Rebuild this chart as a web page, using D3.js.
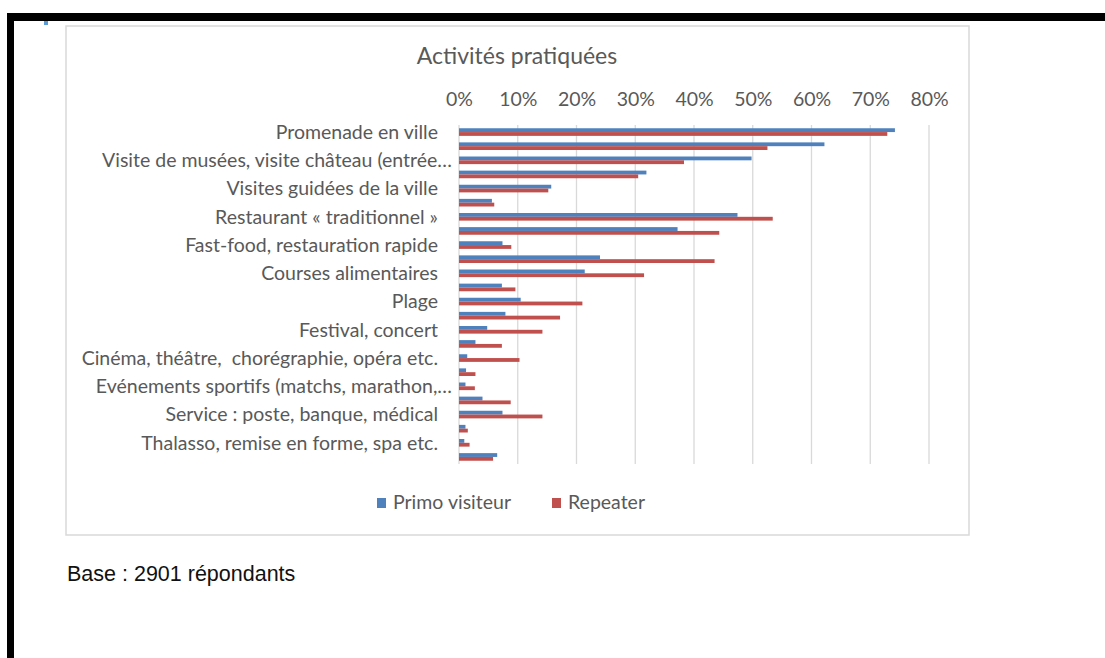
<!DOCTYPE html>
<html>
<head>
<meta charset="utf-8">
<script src="https://cdn.jsdelivr.net/npm/d3@7"></script>
<style>
    body { margin: 0; background: #fff; }
    .lato { font-family: Lato, "Open Sans", sans-serif; white-space: pre; }
</style>
</head>
<body>
<div id="chart"></div>
<script>
// categories (every other one has no label shown on the axis)
const categories = [
    "Promenade en ville", "",
    "Visite de musées, visite château (entrée…", "",
    "Visites guidées de la ville", "",
    "Restaurant « traditionnel »", "",
    "Fast-food, restauration rapide", "",
    "Courses alimentaires", "",
    "Plage", "",
    "Festival, concert", "",
    "Cinéma, théâtre,  chorégraphie, opéra etc.", "",
    "Evénements sportifs (matchs, marathon,…", "",
    "Service : poste, banque, médical", "",
    "Thalasso, remise en forme, spa etc.", ""
];
const primo = [74.2, 62.2, 49.8, 31.9, 15.7, 5.6, 47.4, 37.2, 7.4, 24.0, 21.4, 7.3,
    10.5, 7.9, 4.8, 2.8, 1.4, 1.2, 1.1, 4.0, 7.4, 1.1, 0.9, 6.5];
const repeater = [72.9, 52.5, 38.3, 30.5, 15.2, 6.0, 53.4, 44.3, 8.9, 43.5, 31.5, 9.6,
    21.0, 17.2, 14.2, 7.3, 10.3, 2.8, 2.7, 8.8, 14.2, 1.5, 1.8, 5.8];
const seriesNames = ["Primo visiteur", "Repeater"];
const xTicks = [0, 10, 20, 30, 40, 50, 60, 70, 80];

const w = 1105, h = 658;
const colors = { "Primo visiteur": "#4f81bd", "Repeater": "#c0504d" };

const svg = d3.select("#chart").append("svg")
    .attr("width", w)
    .attr("height", h);

// page frame (screenshot border)
svg.append("rect").attr("x", 7).attr("y", 13).attr("width", w - 7).attr("height", 8).attr("fill", "#000");
svg.append("rect").attr("x", 7).attr("y", 13).attr("width", 7).attr("height", h - 13).attr("fill", "#000");
svg.append("rect").attr("x", 44).attr("y", 21).attr("width", 4).attr("height", 4).attr("fill", "#5b9bd5");

// chart box
svg.append("rect")
    .attr("x", 66).attr("y", 26)
    .attr("width", 903).attr("height", 509)
    .attr("fill", "#fff")
    .attr("stroke", "#d9d9d9")
    .attr("stroke-width", 1.5);

svg.append("text")
    .attr("class", "lato")
    .text("Activités pratiquées")
    .attr("x", 517).attr("y", 64)
    .attr("text-anchor", "middle")
    .attr("font-size", 23)
    .attr("fill", "#595959");

// SCALES
const x = d3.scaleLinear()
    .domain([0, 80])
    .range([459, 929]);

const y = d3.scaleBand()
    .domain(d3.range(categories.length))
    .range([125, 464]);

const ySub = d3.scaleBand()
    .domain(seriesNames)
    .range([y.bandwidth() * 0.23, y.bandwidth() * 0.77]);

// gridlines
svg.append("g")
    .selectAll("line")
    .data(xTicks).enter().append("line")
    .attr("x1", d => x(d)).attr("x2", d => x(d))
    .attr("y1", 125).attr("y2", 464)
    .attr("stroke", "#d9d9d9")
    .attr("stroke-width", 1.3);

// top axis
const xAxis = svg.append("g")
    .attr("transform", "translate(0,106)")
    .call(d3.axisTop(x).tickValues(xTicks).tickFormat(d => d + "%").tickSize(0).tickPadding(0));
xAxis.select(".domain").remove();
xAxis.selectAll("text")
    .attr("class", "lato")
    .attr("font-size", 19.5)
    .attr("fill", "#595959");

// category labels
svg.append("g")
    .selectAll("text")
    .data(categories).enter().append("text")
    .attr("class", "lato")
    .text(d => d)
    .attr("x", d => d.endsWith("…") ? 452 : 438)
    .attr("y", (d, i) => y(i) + y.bandwidth() / 2)
    .attr("dy", "0.35em")
    .attr("text-anchor", "end")
    .attr("font-size", 19.5)
    .attr("fill", "#595959");

// bars
const rows = categories.map((c, i) => ({ i: i, values: [primo[i], repeater[i]] }));
const groups = svg.append("g")
    .selectAll("g")
    .data(rows).enter().append("g")
    .attr("transform", d => "translate(0," + y(d.i) + ")");

groups.selectAll("rect")
    .data(d => d.values.map((v, k) => ({ name: seriesNames[k], value: v })))
    .enter().append("rect")
    .attr("x", x(0))
    .attr("y", d => ySub(d.name))
    .attr("width", d => x(d.value) - x(0))
    .attr("height", ySub.bandwidth())
    .attr("fill", d => colors[d.name]);

// legend
const legendPos = [{ name: "Primo visiteur", x: 377 }, { name: "Repeater", x: 552 }];
const legend = svg.append("g")
    .selectAll("g")
    .data(legendPos).enter().append("g")
    .attr("transform", d => "translate(" + d.x + ",498)");
legend.append("rect")
    .attr("width", 9).attr("height", 10)
    .attr("fill", d => colors[d.name]);
legend.append("text")
    .attr("class", "lato")
    .text(d => d.name)
    .attr("x", 16).attr("y", 10.5)
    .attr("font-size", 19.5)
    .attr("fill", "#595959");

// note below chart
svg.append("text")
    .text("Base : 2901 répondants")
    .attr("x", 67).attr("y", 581)
    .style("font-family", "'Liberation Sans', Arial, sans-serif")
    .attr("font-size", 21.5)
    .attr("fill", "#111");
</script>
</body>
</html>
